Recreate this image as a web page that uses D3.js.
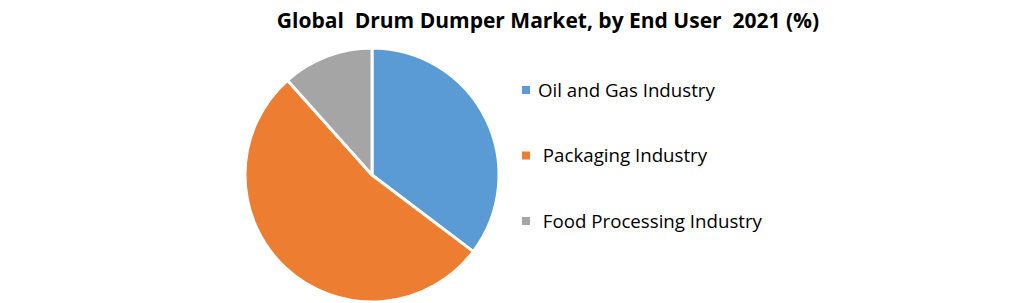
<!DOCTYPE html>
<html>
<head>
<meta charset="utf-8">
<script src="https://cdn.jsdelivr.net/npm/d3@7"></script>
<style>
  body { margin: 0; background: #fff; }
  text { font-family: "Open Sans", Lato, sans-serif; }
</style>
</head>
<body>
<div id="chart"></div>
<script>
// segments (percent)
var categories = ["Oil and Gas Industry", "Packaging Industry", "Food Processing Industry"];
var shares = [35.3, 53.1, 11.6];
var colours = ["#5b9bd5", "#ed7d31", "#a5a5a5"];
var legendLabels = ["Oil and Gas Industry", " Packaging Industry", " Food Processing Industry"];

var width = 1020, height = 303;

var svg = d3.select("#chart")
    .append("svg")
    .attr("width", width)
    .attr("height", height);

svg.append("text")
    .attr("x", 548)
    .attr("y", 28)
    .attr("text-anchor", "middle")
    .attr("font-size", 21)
    .attr("font-weight", "bold")
    .attr("fill", "#000")
    .style("white-space", "pre")
    .text("Global  Drum Dumper Market, by End User  2021 (%)");

var data = categories.map(function(c, i) { return { name: c, value: shares[i] }; });

var pie = d3.pie().sort(null).value(function(d) { return d.value; });
var arc = d3.arc().innerRadius(0).outerRadius(127);
var colour = d3.scaleOrdinal().domain(categories).range(colours);

var g = svg.append("g").attr("transform", "translate(372,175)");

g.selectAll("path")
    .data(pie(data))
    .enter()
    .append("path")
    .attr("d", arc)
    .attr("fill", function(d) { return colour(d.data.name); })
    .attr("stroke", "#fff")
    .attr("stroke-width", 3)
    .attr("stroke-linejoin", "round");

// legend
var legend = svg.append("g").attr("transform", "translate(522,0)");
var ly = d3.scalePoint().domain(categories).range([90, 221]);

var items = legend.selectAll("g")
    .data(categories)
    .enter()
    .append("g")
    .attr("transform", function(d) { return "translate(0," + ly(d) + ")"; });

items.append("rect")
    .attr("x", 0)
    .attr("y", -4)
    .attr("width", 8)
    .attr("height", 8)
    .attr("fill", function(d) { return colour(d); });

items.append("text")
    .attr("x", 16)
    .attr("y", 6.5)
    .attr("font-size", 18.7)
    .attr("fill", "#000")
    .style("white-space", "pre")
    .text(function(d, i) { return legendLabels[i]; });
</script>
</body>
</html>
